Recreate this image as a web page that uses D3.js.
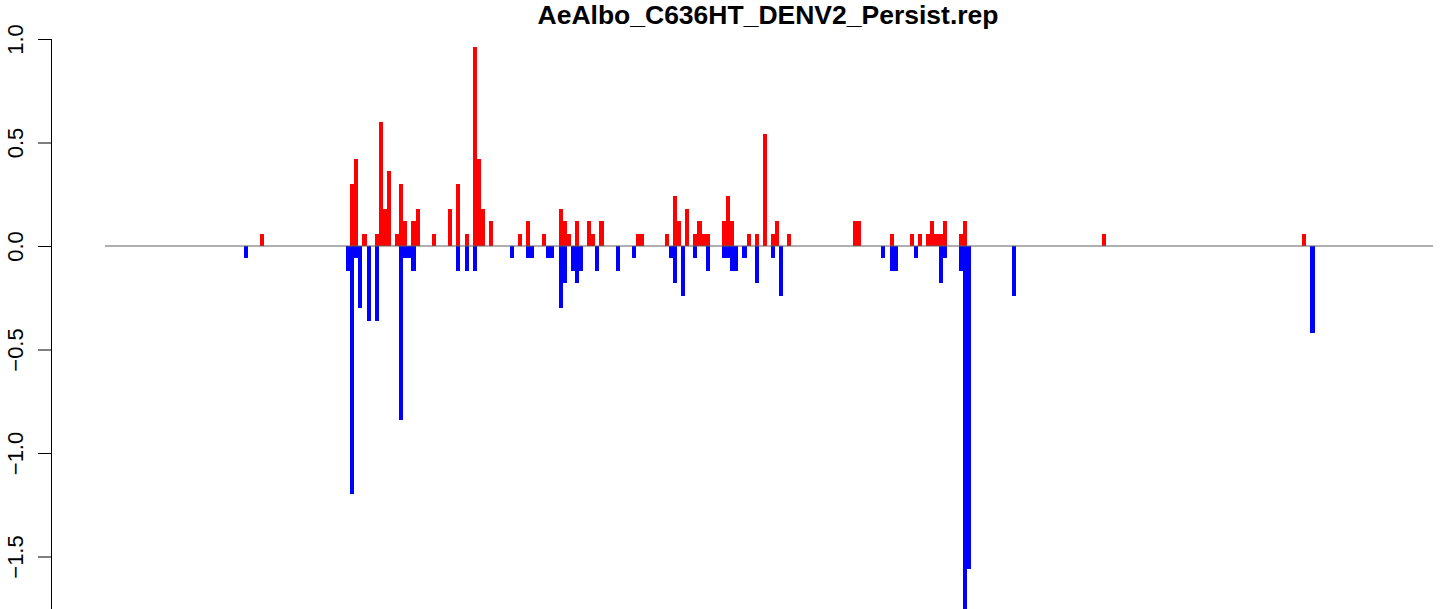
<!DOCTYPE html>
<html>
<head>
<meta charset="utf-8">
<script src="https://cdn.jsdelivr.net/npm/d3@7"></script>
<style>
  html, body { margin: 0; padding: 0; background: #ffffff; }
  svg { display: block; }
  text { font-family: "Liberation Sans", Arial, Helvetica, sans-serif; }
</style>
</head>
<body>
<svg id="chart" width="1444" height="609"></svg>
<script>
// ---- data -------------------------------------------------------------
const chartTitle = "AeAlbo_C636HT_DENV2_Persist.rep";
const binCount = 325;                       // number of windows along the sequence
const yTickValues = [-1.5, -1.0, -0.5, 0.0, 0.5, 1.0];

// sense-strand signal (drawn upward, red): window index and value
const senseBins = [38, 60, 61, 63, 66, 67, 68, 69, 71, 72, 73, 75, 76, 80, 84, 86, 88, 90, 91, 92, 94,
  101, 103, 107, 111, 112, 113, 115, 118, 119, 121, 130, 131, 137, 139, 140, 142, 144, 145, 146, 147,
  151, 152, 153, 157, 159, 161, 163, 164, 167, 183, 184, 192, 197, 199, 201, 202, 203, 204, 205,
  209, 210, 244, 293];
const senseValues = [0.06, 0.30, 0.42, 0.06, 0.06, 0.60, 0.18, 0.36, 0.06, 0.30, 0.12, 0.12, 0.18, 0.06, 0.18, 0.30, 0.06, 0.96, 0.42, 0.18, 0.12,
  0.06, 0.12, 0.06, 0.18, 0.12, 0.06, 0.12, 0.12, 0.06, 0.12, 0.06, 0.06, 0.06, 0.24, 0.12, 0.18, 0.06, 0.12, 0.06, 0.06,
  0.12, 0.24, 0.12, 0.06, 0.06, 0.54, 0.06, 0.12, 0.06, 0.12, 0.12, 0.06, 0.06, 0.06, 0.06, 0.12, 0.06, 0.06, 0.12,
  0.06, 0.12, 0.06, 0.06];

// antisense-strand signal (drawn downward, blue): window index and value
const antisenseBins = [34, 59, 60, 61, 62, 64, 66, 72, 73, 74, 75, 86, 88, 90, 99, 103, 104, 108, 109,
  111, 112, 114, 115, 116, 120, 125, 129, 138, 139, 141, 144, 147, 151, 152, 153, 154, 156, 159,
  163, 165, 190, 192, 193, 198, 204, 205, 209, 210, 211, 222, 295];
const antisenseValues = [-0.06, -0.12, -1.20, -0.06, -0.30, -0.36, -0.36, -0.84, -0.06, -0.06, -0.12, -0.12, -0.12, -0.12, -0.06, -0.06, -0.06, -0.06, -0.06,
  -0.30, -0.18, -0.12, -0.18, -0.12, -0.12, -0.12, -0.06, -0.06, -0.18, -0.24, -0.06, -0.12, -0.06, -0.06, -0.12, -0.12, -0.06, -0.18,
  -0.06, -0.24, -0.06, -0.12, -0.12, -0.06, -0.18, -0.06, -0.12, -2.04, -1.56, -0.24, -0.42];

// ---- layout -----------------------------------------------------------
const W = 1444, H = 609;
const svg = d3.select("#chart");
svg.append("rect").attr("width", W).attr("height", H).attr("fill", "#ffffff");

const x = d3.scaleLinear().domain([0, binCount]).range([105, 1433]);
const y = d3.scaleLinear().domain([-2, 1]).range([660, 39]);

const sense = senseBins.map((b, i) => ({ bin: b, value: senseValues[i] }));
const antisense = antisenseBins.map((b, i) => ({ bin: b, value: antisenseValues[i] }));

const bars = svg.append("g").attr("shape-rendering", "crispEdges");

bars.selectAll("rect.sense")
  .data(sense)
  .join("rect")
  .attr("class", "sense")
  .attr("x", d => x(d.bin))
  .attr("width", d => x(d.bin + 1) - x(d.bin))
  .attr("y", d => y(d.value))
  .attr("height", d => y(0) - y(d.value))
  .attr("fill", "#ff0000");

bars.selectAll("rect.antisense")
  .data(antisense)
  .join("rect")
  .attr("class", "antisense")
  .attr("x", d => x(d.bin))
  .attr("width", d => x(d.bin + 1) - x(d.bin))
  .attr("y", y(0))
  .attr("height", d => y(d.value) - y(0))
  .attr("fill", "#0000ff");

// zero reference line across all windows
svg.append("line")
  .attr("x1", x(0)).attr("x2", x(binCount))
  .attr("y1", y(0)).attr("y2", y(0))
  .attr("stroke", "#5e5e5e")
  .attr("stroke-width", 1);

// ---- y axis -----------------------------------------------------------
const axisX = 51;
const yAxis = d3.axisLeft(y)
  .tickValues(yTickValues)
  .tickSize(13)
  .tickPadding(15)
  .tickFormat(d3.format(".1f"));

const gAxis = svg.append("g")
  .attr("transform", `translate(${axisX},0)`)
  .call(yAxis);

// axis line runs on past the lower edge of the drawing
gAxis.select(".domain")
  .attr("d", `M0.5,${y(1)}V${y(-2)}`)
  .attr("stroke", "#000")
  .attr("stroke-width", 1);
gAxis.selectAll(".tick line")
  .attr("stroke", "#000")
  .attr("stroke-width", 1);
gAxis.selectAll(".tick text")
  .attr("font-size", 22)
  .attr("fill", "#000")
  .attr("text-anchor", "middle")
  .attr("dy", null)
  .attr("x", null)
  .attr("transform", `translate(${23 - axisX},0) rotate(-90)`)
  .attr("y", 0);

// ---- title ------------------------------------------------------------
svg.append("text")
  .attr("x", 768)
  .attr("y", 24)
  .attr("text-anchor", "middle")
  .attr("font-size", 26.5)
  .attr("font-weight", "bold")
  .attr("fill", "#000")
  .text(chartTitle);
</script>
</body>
</html>
